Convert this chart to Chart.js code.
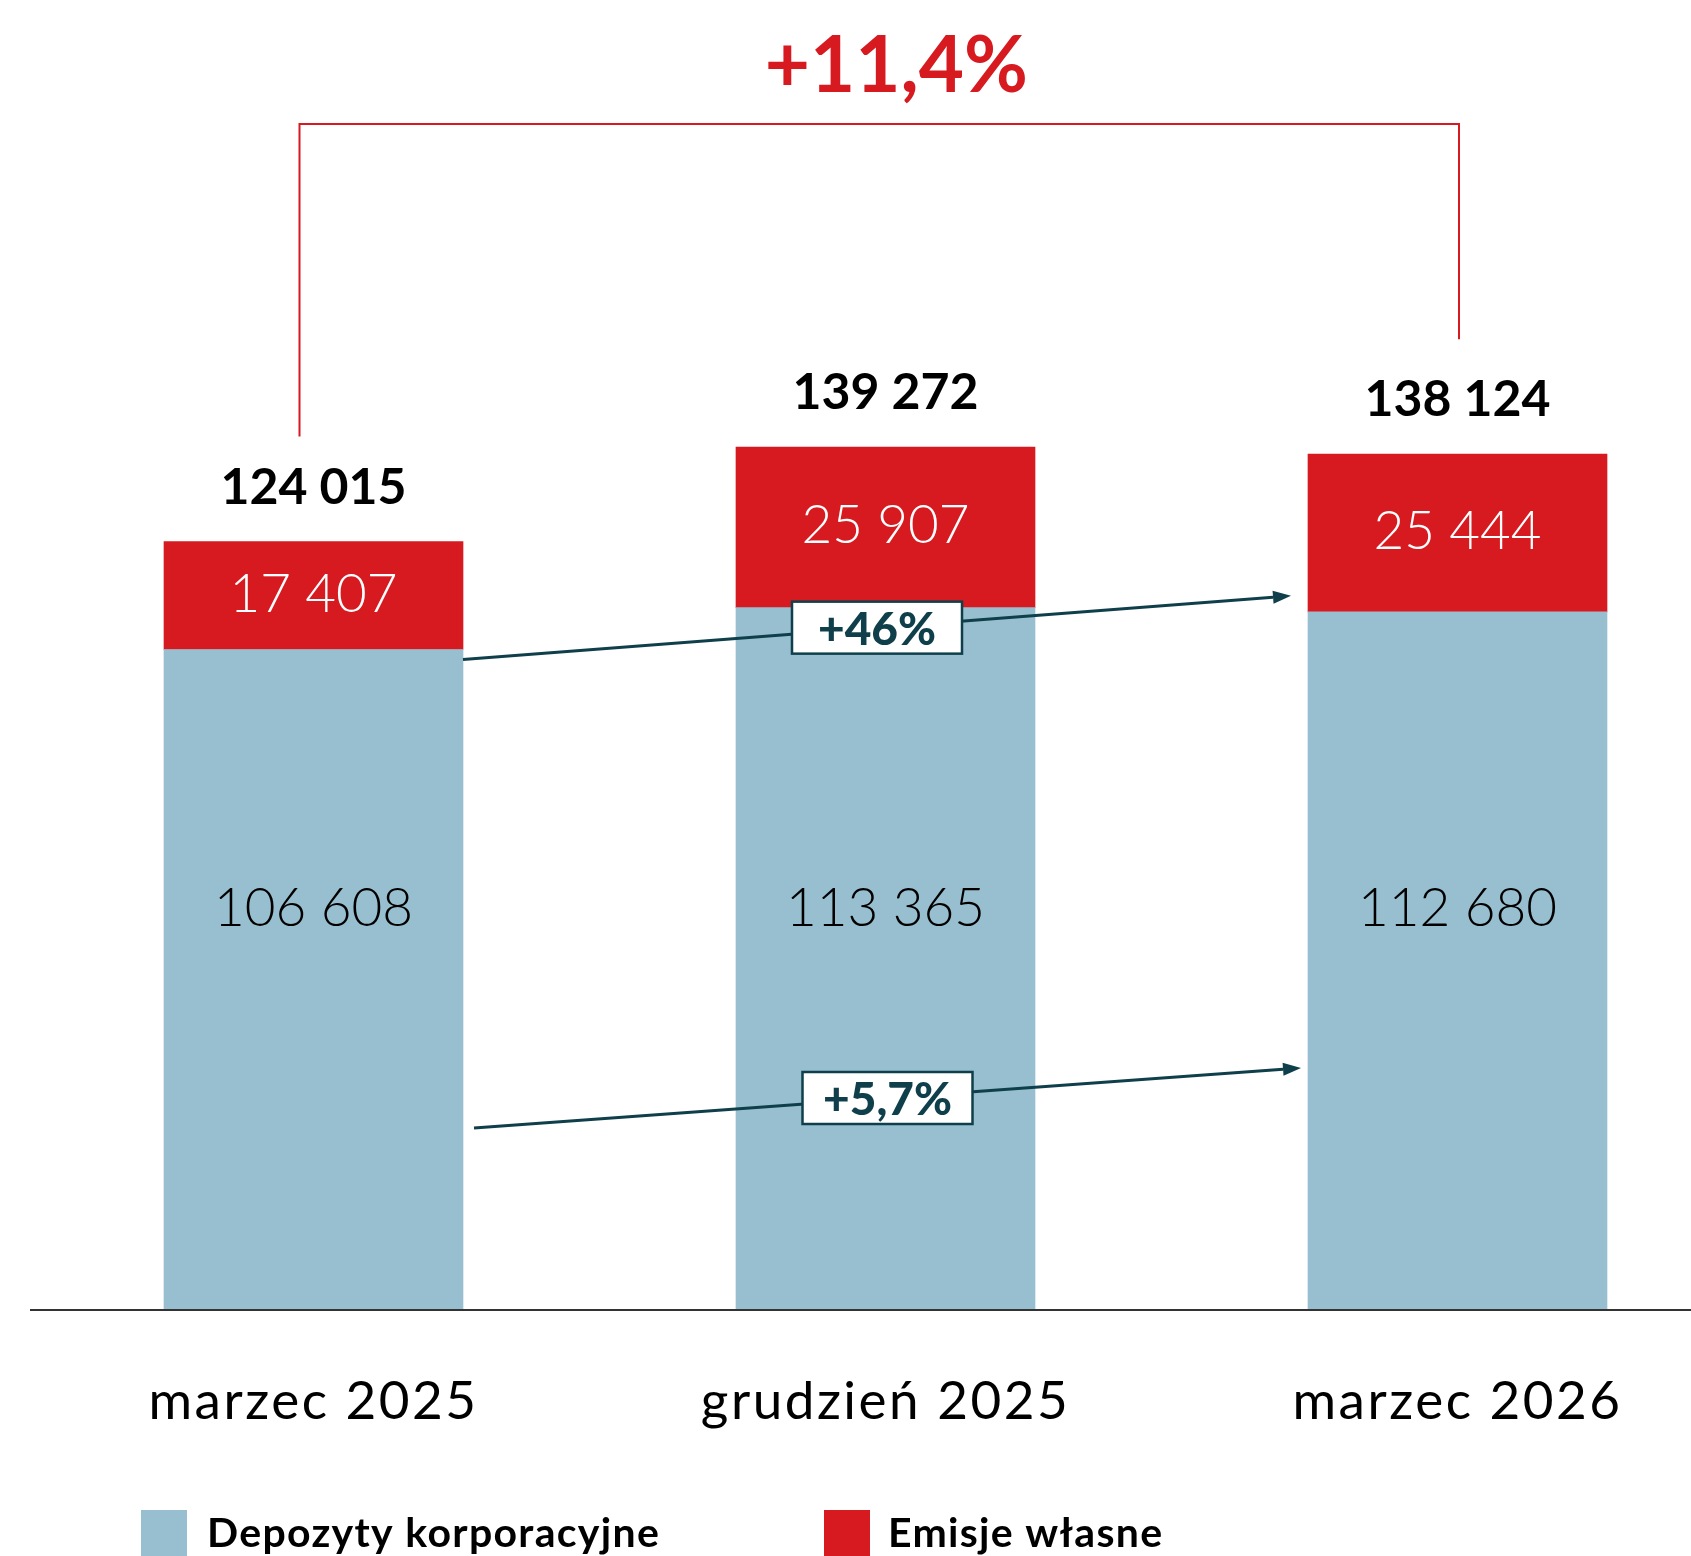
<!DOCTYPE html>
<html lang="pl">
<head>
<meta charset="utf-8">
<title>Depozyty korporacyjne i emisje własne</title>
<script src="https://cdn.jsdelivr.net/npm/chart.js@4.4.1/dist/chart.umd.min.js"></script>
<style>
  html, body { margin: 0; padding: 0; background: #fff; overflow: hidden; }
  canvas { display: block; }
</style>
</head>
<body>
<canvas id="myChart" width="1691" height="1556"></canvas>
<script>
var categories = ['marzec 2025', 'grudzień 2025', 'marzec 2026'];
var seriesNames = ['Depozyty korporacyjne', 'Emisje własne'];
var depozyty = [106608, 113365, 112680];
var emisje = [17407, 25907, 25444];
var totals = [124015, 139272, 138124];
var totalChange = '+11,4%';
var emisjeChange = '+46%';
var depozytyChange = '+5,7%';

var BLUE = '#97bfcf';
var RED = '#d71920';
var TEAL = '#0f3f4a';
var FONT = 'Lato, "Open Sans", sans-serif';

function fmt(n) {
  return String(n).replace(/\B(?=(\d{3})+(?!\d))/g, ' ');
}

// arrow with a boxed label in the middle
function drawArrow(ctx, x1, y1, x2, y2, text) {
  var ang = Math.atan2(y2 - y1, x2 - x1);
  var head = 18, half = 6.5;
  var bx = x2 - head * Math.cos(ang), by = y2 - head * Math.sin(ang);
  ctx.strokeStyle = TEAL;
  ctx.fillStyle = TEAL;
  ctx.lineWidth = 3;
  ctx.beginPath();
  ctx.moveTo(x1, y1);
  ctx.lineTo(bx, by);
  ctx.stroke();
  ctx.beginPath();
  ctx.moveTo(x2, y2);
  ctx.lineTo(bx + half * Math.sin(ang), by - half * Math.cos(ang));
  ctx.lineTo(bx - half * Math.sin(ang), by + half * Math.cos(ang));
  ctx.closePath();
  ctx.fill();

  var cx = (x1 + x2) / 2, cy = (y1 + y2) / 2;
  var w = 170, h = 52;
  ctx.fillStyle = '#fff';
  ctx.fillRect(cx - w / 2, cy - h / 2, w, h);
  ctx.lineWidth = 2.5;
  ctx.strokeRect(cx - w / 2, cy - h / 2, w, h);
  ctx.fillStyle = TEAL;
  ctx.font = '900 46px ' + FONT;
  ctx.textAlign = 'center';
  ctx.textBaseline = 'alphabetic';
  ctx.fillText(text, cx, cy + 17);
}

var extras = {
  id: 'extras',
  beforeDraw: function (chart) {
    // x tick labels are a bit wider in the original
    chart.ctx.letterSpacing = '2.5px';
  },
  beforeDatasetsDraw: function (chart) {
    chart.ctx.letterSpacing = '0px';
  },
  afterDatasetsDraw: function (chart) {
    var ctx = chart.ctx;
    var y = chart.scales.y;
    var blue = chart.getDatasetMeta(0).data;
    var red = chart.getDatasetMeta(1).data;
    var base = y.getPixelForValue(0);
    var half = blue[0].width / 2;

    ctx.save();
    // axis line
    ctx.strokeStyle = '#333';
    ctx.lineWidth = 2;
    ctx.beginPath();
    ctx.moveTo(30, base);
    ctx.lineTo(chart.width, base);
    ctx.stroke();

    ctx.textAlign = 'center';
    ctx.textBaseline = 'alphabetic';
    for (var i = 0; i < categories.length; i++) {
      ctx.fillStyle = '#000';
      ctx.font = '300 53px ' + FONT;
      ctx.fillText(fmt(depozyty[i]), blue[i].x, y.getPixelForValue(65000) + 19);
      ctx.fillStyle = '#fff';
      ctx.fillText(fmt(emisje[i]), red[i].x, (red[i].y + red[i].base) / 2 + 16);
      ctx.fillStyle = '#000';
      ctx.font = 'bold 50px ' + FONT;
      ctx.fillText(fmt(totals[i]), red[i].x, red[i].y - 38);
    }

    // bracket with total change
    var lx = blue[0].x - 14, rx = blue[2].x + 1.5, top = 124;
    ctx.strokeStyle = RED;
    ctx.lineWidth = 2;
    ctx.beginPath();
    ctx.moveTo(lx, red[0].y - 105);
    ctx.lineTo(lx, top);
    ctx.lineTo(rx, top);
    ctx.lineTo(rx, red[2].y - 115);
    ctx.stroke();
    ctx.fillStyle = RED;
    ctx.font = 'bold 78px ' + FONT;
    ctx.fillText(totalChange, (lx + rx) / 2 + 17, 92);

    // growth arrows
    drawArrow(ctx, red[0].x + half, blue[0].y + 10, red[2].x - half - 17, blue[2].y - 16, emisjeChange);
    drawArrow(ctx, blue[0].x + half + 11, base - 182, blue[2].x - half - 7, base - 242, depozytyChange);

    // legend
    var items = [{x: 141, tx: 207, color: BLUE}, {x: 824, tx: 888, color: RED}];
    ctx.textAlign = 'left';
    ctx.font = 'bold 41px ' + FONT;
    ctx.letterSpacing = '1.3px';
    items.forEach(function (it, k) {
      ctx.fillStyle = it.color;
      ctx.fillRect(it.x, 1510, 46, 46);
      ctx.fillStyle = '#000';
      ctx.fillText(seriesNames[k], it.tx, 1547);
    });
    ctx.restore();
  }
};

var chart = new Chart(document.getElementById('myChart'), {
  type: 'bar',
  data: {
    labels: categories,
    datasets: [{
      label: seriesNames[0],
      data: depozyty,
      backgroundColor: BLUE,
      barThickness: 299,
      clip: false
    }, {
      label: seriesNames[1],
      data: emisje,
      backgroundColor: RED,
      barThickness: 299,
      clip: false
    }]
  },
  options: {
    responsive: false,
    animation: false,
    devicePixelRatio: 1,
    layout: { padding: { left: 313.5, right: 233.5, top: 380.6, bottom: 62.4 } },
    plugins: {
      legend: { display: false },
      tooltip: { enabled: false }
    },
    scales: {
      x: {
        stacked: true,
        offset: false,
        grid: { display: false, drawTicks: false },
        border: { display: false },
        ticks: {
          padding: 60,
          maxRotation: 0,
          autoSkip: false,
          color: '#000',
          font: { family: FONT, size: 53, weight: 400 }
        }
      },
      y: { stacked: true, display: false, min: 0, max: 150000 }
    }
  },
  plugins: [extras]
});
</script>
</body>
</html>
